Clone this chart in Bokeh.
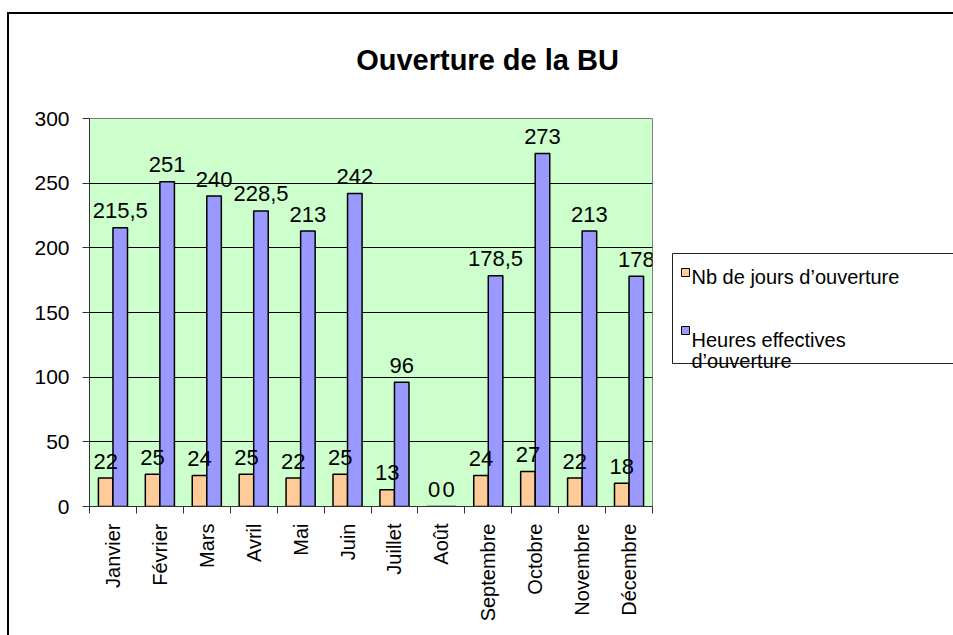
import numpy as np
from bokeh.plotting import figure
from bokeh.layouts import column, row
from bokeh.models import FixedTicker, Range1d, ColumnDataSource
from bokeh.core.properties import value
from bokeh.embed import file_html
from bokeh.resources import INLINE

# ---- data ----
months = ["Janvier", "Février", "Mars", "Avril", "Mai", "Juin", "Juillet", "Août",
          "Septembre", "Octobre", "Novembre", "Décembre"]
jours = [22, 25, 24, 25, 22, 25, 13, 0, 24, 27, 22, 18]
heures = [215.5, 251, 240, 228.5, 213, 242, 96, 0, 178.5, 273, 213, 178]
y_ticks = [0, 50, 100, 150, 200, 250, 300]
title_text = "Ouverture de la BU"
series_names = ["Nb de jours d’ouverture", "Heures effectives d’ouverture"]
series_colors = ["#FFCC99", "#9999FF"]

FONT = "Liberation Sans"
W, H = 953, 635
HEAD_H = 100          # height of the title strip
MAIN_W = 660          # width of the plot part
FRAME_TOP, FRAME_BOTTOM = 118, 506


def fmt(v):
    return f"{v:g}".replace(".", ",")


def blank_fig(width, height, x0, x1, y_top, y_bottom):
    """A figure whose frame fills its area, in page-pixel units."""
    f = figure(width=width, height=height, x_range=Range1d(x0, x1), y_range=Range1d(y_bottom, y_top),
               output_backend="svg", toolbar_location=None, title=None,
               x_axis_location=None, y_axis_location=None,
               min_border=0, min_border_left=0, min_border_right=0, min_border_top=0, min_border_bottom=0,
               background_fill_color=None, border_fill_color=None, outline_line_color=None)
    f.grid.visible = False
    return f


# ---- title strip ----
head = blank_fig(W, HEAD_H, 0, W, 0, HEAD_H)
head.text(x=[487], y=[59], text=[title_text], text_font=value(FONT), text_font_size="29px",
          text_font_style="bold", text_color="black", text_align="center", text_baseline="alphabetic")

# ---- main chart ----
idx = np.arange(len(months))
src = ColumnDataSource(dict(
    x_j=idx + 0.5 - 0.155,
    x_h=idx + 0.5 + 0.155,
    jours=jours,
    heures=heures,
    lab_j=[fmt(v) for v in jours],
    lab_h=[fmt(v) for v in heures],
))

p = figure(width=MAIN_W, height=H - HEAD_H, x_range=Range1d(0, 12), y_range=Range1d(0, 300),
           output_backend="svg", toolbar_location=None, title=None,
           min_border_left=89, min_border_right=MAIN_W - 652, min_border_top=FRAME_TOP - HEAD_H,
           min_border_bottom=H - FRAME_BOTTOM,
           background_fill_color="#CCFFCC", border_fill_color=None,
           outline_line_color="#808080", outline_line_width=1)

p.vbar(x="x_j", top="jours", bottom=0, width=0.31, source=src,
       fill_color=series_colors[0], line_color="black", line_width=1.5)
p.vbar(x="x_h", top="heures", bottom=0, width=0.31, source=src,
       fill_color=series_colors[1], line_color="black", line_width=1.5)

for xc, yc, tc in (("x_j", "jours", "lab_j"), ("x_h", "heures", "lab_h")):
    p.text(x=xc, y=yc, text=tc, source=src,
           text_font=value(FONT), text_font_size="22px", text_color="black",
           text_align="center", text_baseline="alphabetic", y_offset=-17)

p.xgrid.visible = False
p.ygrid.ticker = FixedTicker(ticks=y_ticks[1:-1])
p.ygrid.grid_line_color = "black"
p.ygrid.grid_line_width = 1

ya = p.yaxis[0]
ya.ticker = FixedTicker(ticks=y_ticks)
ya.major_tick_out = 7
ya.major_tick_in = 0
ya.minor_tick_line_color = None
ya.axis_line_color = "#303030"
ya.major_tick_line_color = "#303030"
ya.major_label_standoff = 13
ya.major_label_text_font = FONT
ya.major_label_text_font_size = "21px"
ya.major_label_text_color = "black"

xa = p.xaxis[0]
xa.ticker = FixedTicker(ticks=[float(i) + 0.5 for i in idx],
                        minor_ticks=[float(i) for i in range(len(months) + 1)])
xa.major_label_overrides = {float(i) + 0.5: m for i, m in enumerate(months)}
xa.major_label_orientation = np.pi / 2
xa.major_tick_line_color = None
xa.major_tick_out = 0
xa.major_tick_in = 0
xa.minor_tick_out = 7
xa.minor_tick_in = 0
xa.minor_tick_line_color = "#303030"
xa.axis_line_color = "#303030"
xa.major_label_standoff = 10
xa.major_label_text_font = FONT
xa.major_label_text_font_size = "20px"
xa.major_label_text_color = "black"

# ---- legend panel (page-pixel units; its frame lines up with the plot frame) ----
leg = blank_fig(W - MAIN_W, H - HEAD_H, MAIN_W, W, FRAME_TOP, FRAME_BOTTOM)
leg.quad(left=[672], right=[W + 20], top=[253], bottom=[363],
         fill_color="white", line_color="#222222", line_width=1)
leg.quad(left=[681, 681], right=[689, 689], top=[268, 326], bottom=[276, 334],
         fill_color=series_colors, line_color="black", line_width=1)
leg_lines = [series_names[0], "Heures effectives", "d’ouverture"]
leg.text(x=[691, 691, 691], y=[276, 339, 360], text=leg_lines,
         text_font=value(FONT), text_font_size="20px", text_color="black",
         text_align="left", text_baseline="alphabetic")

layout = column(head, row(p, leg, spacing=0), spacing=0)
# outer chart border: left and top edges visible, the rest runs off the page
layout.styles = {"box-shadow": "inset 7px 12px 0 0 white, inset 9px 14px 0 0 black",
                 "background-color": "white"}

open("out.html", "w").write(file_html(layout, INLINE))
